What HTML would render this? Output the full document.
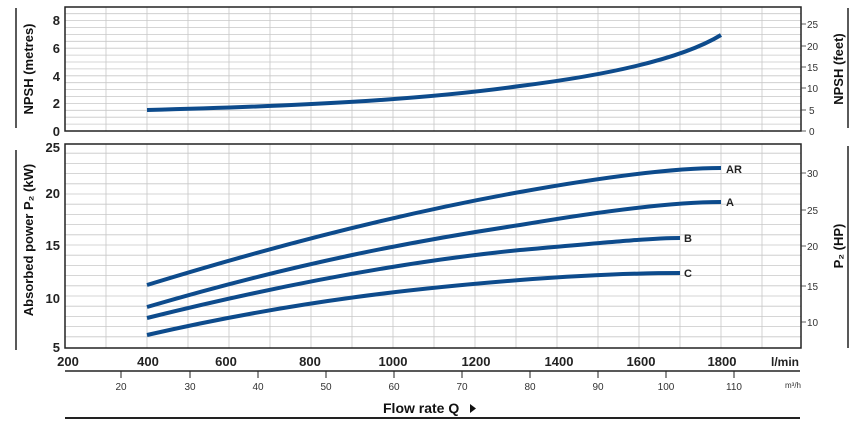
<!DOCTYPE html>
<html><head><meta charset="utf-8"><style>
body{margin:0;background:#fff}
svg text{font-family:"Liberation Sans",Arial,sans-serif}
</style></head><body>
<svg width="858" height="432" viewBox="0 0 858 432" xmlns="http://www.w3.org/2000/svg">
<g stroke="#c8c8c8" stroke-width="0.8" fill="none">
<path d="M106,7V131M147,7V131M188,7V131M229,7V131M270,7V131M311,7V131M352,7V131M393,7V131M434,7V131M475,7V131M516,7V131M557,7V131M598,7V131M639,7V131M680,7V131M721,7V131M762,7V131"/>
<path d="M106,144V348M147,144V348M188,144V348M229,144V348M270,144V348M311,144V348M352,144V348M393,144V348M434,144V348M475,144V348M516,144V348M557,144V348M598,144V348M639,144V348M680,144V348M721,144V348M762,144V348"/>
<path d="M65,124.1H801M65,117.2H801M65,110.3H801M65,103.4H801M65,96.5H801M65,89.6H801M65,82.7H801M65,75.8H801M65,68.9H801M65,62H801M65,55.1H801M65,48.2H801M65,41.3H801M65,34.4H801M65,27.5H801M65,20.6H801M65,13.7H801"/>
<path d="M65,336.8H801M65,326.6H801M65,316.4H801M65,306.2H801M65,296H801M65,285.8H801M65,275.6H801M65,265.4H801M65,255.2H801M65,245H801M65,234.8H801M65,224.6H801M65,214.4H801M65,204.2H801M65,194H801M65,183.8H801M65,173.6H801M65,163.4H801M65,153.2H801"/>
</g>
<rect x="65" y="7" width="736" height="124" fill="none" stroke="#222" stroke-width="1.5"/>
<rect x="65" y="144" width="736" height="204" fill="none" stroke="#222" stroke-width="1.5"/>
<g font-size="13" font-weight="bold" text-anchor="end" fill="#222">
<text x="60" y="25">8</text><text x="60" y="53">6</text><text x="60" y="81">4</text><text x="60" y="108">2</text><text x="60" y="136">0</text>
<text x="60" y="152">25</text><text x="60" y="198">20</text><text x="60" y="250">15</text><text x="60" y="303">10</text><text x="60" y="352">5</text>
</g>
<g stroke="#333" stroke-width="0.8">
<line x1="801" y1="24" x2="806" y2="24"/><line x1="801" y1="46" x2="806" y2="46"/><line x1="801" y1="67" x2="806" y2="67"/><line x1="801" y1="88" x2="806" y2="88"/><line x1="801" y1="110" x2="806" y2="110"/><line x1="801" y1="131" x2="806" y2="131"/>
<line x1="801" y1="173" x2="806" y2="173"/><line x1="801" y1="210" x2="806" y2="210"/><line x1="801" y1="246" x2="806" y2="246"/><line x1="801" y1="286" x2="806" y2="286"/><line x1="801" y1="322" x2="806" y2="322"/>
</g>
<g font-size="10" fill="#333">
<text x="807" y="28">25</text><text x="807" y="50">20</text><text x="807" y="71">15</text><text x="807" y="92">10</text><text x="809" y="114">5</text><text x="809" y="135">0</text>
<text x="807" y="177">30</text><text x="807" y="214">25</text><text x="807" y="250">20</text><text x="807" y="290">15</text><text x="807" y="326">10</text>
</g>
<g fill="none" stroke="#0d4b8c" stroke-width="4">
<path d="M147,110 C300,106 420,100 520,86 C600,76 680,60 721,35"/>
<path d="M147,285 C300,238 420,210 520,192 C620,174 680,168 721,168"/>
<path d="M147,307 C300,262 420,240 520,225 C620,208 680,202 721,202"/>
<path d="M147,318 C300,280 420,260 520,250 C600,243 650,238 680,238"/>
<path d="M147,335 C300,300 420,288 520,280 C600,274 650,273 680,273"/>
</g>
<g font-size="11" font-weight="bold" fill="#222">
<text x="726" y="173">AR</text><text x="726" y="206">A</text><text x="684" y="242">B</text><text x="684" y="277">C</text>
</g>
<g font-size="13" font-weight="bold" fill="#222" text-anchor="middle">
<text x="68" y="366">200</text><text x="148" y="366">400</text><text x="226" y="366">600</text><text x="310" y="366">800</text><text x="393" y="366">1000</text><text x="476" y="366">1200</text><text x="559" y="366">1400</text><text x="641" y="366">1600</text><text x="722" y="366">1800</text>
</g>
<text x="771" y="366" font-size="12" font-weight="bold" fill="#222">l/min</text>
<line x1="65" y1="371" x2="800" y2="371" stroke="#222" stroke-width="1.5"/>
<g stroke="#222" stroke-width="1">
<line x1="121" y1="371" x2="121" y2="378"/><line x1="190" y1="371" x2="190" y2="378"/><line x1="258" y1="371" x2="258" y2="378"/><line x1="326" y1="371" x2="326" y2="378"/><line x1="394" y1="371" x2="394" y2="378"/><line x1="462" y1="371" x2="462" y2="378"/><line x1="530" y1="371" x2="530" y2="378"/><line x1="598" y1="371" x2="598" y2="378"/><line x1="666" y1="371" x2="666" y2="378"/><line x1="734" y1="371" x2="734" y2="378"/>
</g>
<g font-size="10" fill="#333" text-anchor="middle">
<text x="121" y="390">20</text><text x="190" y="390">30</text><text x="258" y="390">40</text><text x="326" y="390">50</text><text x="394" y="390">60</text><text x="462" y="390">70</text><text x="530" y="390">80</text><text x="598" y="390">90</text><text x="666" y="390">100</text><text x="734" y="390">110</text>
</g>
<text x="785" y="388" font-size="8" fill="#333">m³/h</text>
<text x="383" y="413" font-size="14" font-weight="bold" fill="#111">Flow rate Q</text>
<path d="M470,404 L476,408.5 L470,413 Z" fill="#111"/>
<line x1="65" y1="418" x2="800" y2="418" stroke="#222" stroke-width="2"/>
<line x1="16" y1="8" x2="16" y2="128" stroke="#222" stroke-width="1.5"/>
<line x1="16" y1="150" x2="16" y2="350" stroke="#222" stroke-width="1.5"/>
<line x1="848" y1="8" x2="848" y2="128" stroke="#222" stroke-width="1.5"/>
<line x1="848" y1="146" x2="848" y2="348" stroke="#222" stroke-width="1.5"/>
<g font-size="13" font-weight="bold" fill="#111" text-anchor="middle">
<text transform="translate(33,69) rotate(-90)">NPSH  (metres)</text>
<text transform="translate(33,240) rotate(-90)">Absorbed power P₂  (kW)</text>
<text transform="translate(843,69) rotate(-90)">NPSH  (feet)</text>
<text transform="translate(843,246) rotate(-90)">P₂  (HP)</text>
</g>
</svg>
</body></html>
